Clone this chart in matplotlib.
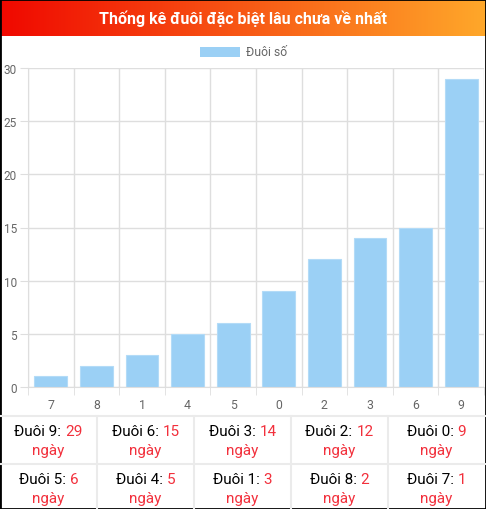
import numpy as np
import matplotlib
matplotlib.use('Agg')
import matplotlib.pyplot as plt
from matplotlib.patches import Rectangle
from matplotlib.lines import Line2D

plt.rcParams['font.family'] = ['Roboto', 'DejaVu Sans']

# data
digits = ['7', '8', '1', '4', '5', '0', '2', '3', '6', '9']
days = [1, 2, 3, 5, 6, 9, 12, 14, 15, 29]
title = 'Thống kê đuôi đặc biệt lâu chưa về nhất'
legend_label = 'Đuôi số'

W, H = 486, 510
fig = plt.figure(figsize=(W / 100, H / 100), dpi=100)

def fx(px):
    return px / W

def fy(py):
    return 1 - py / H

# header gradient
hax = fig.add_axes([0, fy(37), 1, fy(1) - fy(37)])
c1 = np.array([240, 8, 0]) / 255
c2 = np.array([255, 168, 42]) / 255
t = np.linspace(0, 1, 256)
grad = (c1[None, :] * (1 - t[:, None]) + c2[None, :] * t[:, None])[None, :, :]
hax.imshow(grad, aspect='auto', extent=[0, 1, 0, 1])
hax.axis('off')
fig.text(0.5, fy(19), title, color='white', fontsize=11.5, fontweight='bold',
         ha='center', va='center')

# legend
fig.patches.append(Rectangle((fx(200), fy(58)), fx(40), fy(48) - fy(58),
                             transform=fig.transFigure, facecolor='#9bd0f5',
                             edgecolor='none'))
fig.text(fx(246), fy(52.5), legend_label, color='#666666', fontsize=8.8,
         ha='left', va='center')

# bar chart
grid_c = '#dedede'
ax = fig.add_axes([fx(28), fy(388), fx(484) - fx(28), fy(69) - fy(388)])
x = np.arange(len(digits))
ax.bar(x, days, width=0.72, color='#9bd0f5', edgecolor='#b3dbf7', linewidth=0.8, zorder=2)
ax.set_xlim(-0.5, len(digits) - 0.5)
ax.set_ylim(0, 30)
ax.set_yticks(range(0, 31, 5))
ax.set_xticks(x)
ax.set_xticklabels(digits)
ax.set_xticks(np.arange(-0.5, len(digits), 1), minor=True)
ax.grid(True, axis='y', color=grid_c, linewidth=1, zorder=0)
ax.grid(True, axis='x', which='minor', color=grid_c, linewidth=1, zorder=0)
ax.tick_params(axis='x', which='major', length=0, pad=8, labelsize=8.8, labelcolor='#666666')
ax.tick_params(axis='x', which='minor', length=6, color=grid_c)
ax.tick_params(axis='y', length=6, color=grid_c, labelsize=8.5, labelcolor='#666666', pad=2)
for s in ['top', 'right']:
    ax.spines[s].set_visible(False)
ax.spines['left'].set_color(grid_c)
ax.spines['bottom'].set_color(grid_c)

# table of days
order = sorted(range(len(digits)), key=lambda i: -days[i])
line_color = '#ebebeb'
row_tops = [417, 465]
col_w = 97
for y0 in row_tops:
    fig.lines.append(Line2D([0, 1], [fy(y0), fy(y0)], transform=fig.transFigure,
                            color=line_color, linewidth=1.5))
for k in range(1, 5):
    fig.lines.append(Line2D([fx(k * col_w), fx(k * col_w)], [fy(417), fy(509)],
                            transform=fig.transFigure, color=line_color, linewidth=1.5))

renderer = fig.canvas.get_renderer()
red = '#f2303c'
fs = 11
for n, i in enumerate(order):
    r, c = divmod(n, 5)
    cx = (c + 0.5) * col_w
    ytop = row_tops[r]
    part1 = 'Đuôi ' + digits[i] + ': '
    part2 = str(days[i])
    t1 = fig.text(0, 0, part1, fontsize=fs, color='black')
    t2 = fig.text(0, 0, part2, fontsize=fs, color=red)
    w1 = t1.get_window_extent(renderer).width
    w2 = t2.get_window_extent(renderer).width
    left = cx - (w1 + w2) / 2
    t1.set_position((fx(left), fy(ytop + 15)))
    t1.set_va('center')
    t2.set_position((fx(left + w1), fy(ytop + 15)))
    t2.set_va('center')
    fig.text(fx(cx), fy(ytop + 34), 'ngày', fontsize=fs, color=red,
             ha='center', va='center')

# outer border
fig.patches.append(Rectangle((0, 0), 1, 1, transform=fig.transFigure,
                             facecolor='none', edgecolor='black', linewidth=2))

fig.savefig('out.png', dpi=100)
